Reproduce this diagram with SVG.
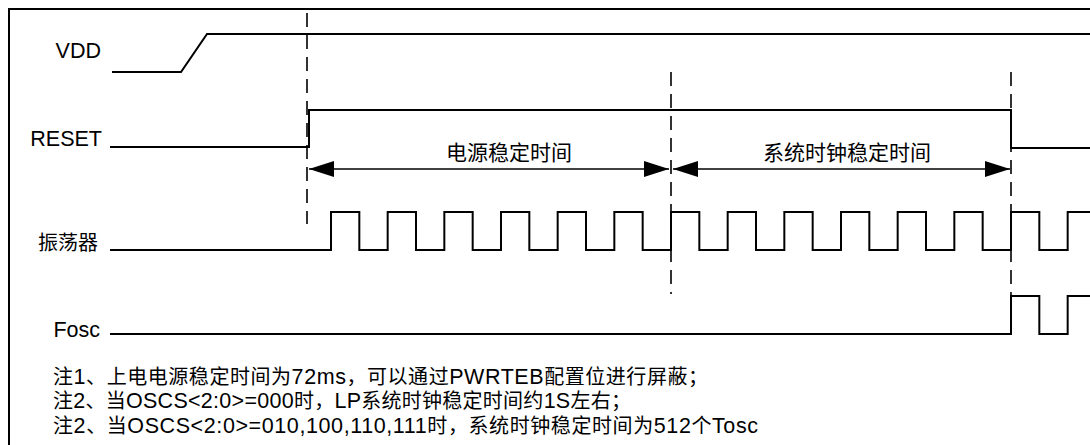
<svg xmlns="http://www.w3.org/2000/svg" width="1090" height="445" viewBox="0 0 1090 445">
<style>
.sig{fill:none;stroke:#000;stroke-width:2}
.dash{fill:none;stroke:#000;stroke-width:1.6;stroke-dasharray:14 8}
.dim{fill:none;stroke:#000;stroke-width:1.5;marker-start:url(#arr);marker-end:url(#arr)}
.lbl{font-family:"Liberation Sans","Noto Sans CJK SC",sans-serif;font-size:20px;fill:#000}
.lat{font-size:21.5px}
.note{font-family:"Liberation Sans","Noto Sans CJK SC",sans-serif;font-size:20px;fill:#000}
.frame{fill:none;stroke:#000;stroke-width:2}
</style>
<defs>
<marker id="arr" viewBox="0 0 25 16" refX="25" refY="8" markerWidth="25" markerHeight="16" markerUnits="userSpaceOnUse" orient="auto-start-reverse">
<path d="M0,0 L25,8 L0,16 z" fill="#000"/>
</marker>
</defs>
<rect width="1090" height="445" fill="#fff"/>
<path class="frame" d="M9,445 V9 H1090"/>

<g id="vdd">
<text class="lbl lat" x="101" y="58" text-anchor="end">VDD</text>
<path class="sig" d="M112,72 H181 L207,34 H1090"/>
</g>

<g id="reset">
<text class="lbl lat" x="102" y="146" text-anchor="end">RESET</text>
<path class="sig" d="M110,147 H309 V110 H1011 V148 H1090"/>
</g>

<g id="osc">
<text class="lbl" x="98" y="250" text-anchor="end">振荡器</text>
<path class="sig" d="M110,250 H331 V212 H359.33 V250 H387.67 V212 H416 V250 H444.33 V212 H472.67 V250 H501 V212 H529.33 V250 H557.67 V212 H586 V250 H614.33 V212 H642.67 V250 H671 V212 H699.33 V250 H727.67 V212 H756 V250 H784.33 V212 H812.67 V250 H841 V212 H869.33 V250 H897.67 V212 H926 V250 H954.33 V212 H982.67 V250 H1011 V212 H1039.33 V250 H1067.67 V212 H1090"/>
</g>

<g id="fosc">
<text class="lbl lat" x="100" y="337" text-anchor="end">Fosc</text>
<path class="sig" d="M110,334 H1011 V296 H1039.33 V334 H1067.67 V296 H1090"/>
</g>

<g id="connectors">
<path class="dash" d="M307,13 V224"/>
<path class="dash" d="M671,72 V294"/>
<path class="dash" d="M1011,72 V296"/>
<path class="dim" d="M309,169 H669"/>
<path class="dim" d="M673,169 H1010"/>
</g>

<g id="labels">
<text class="lbl" x="509" y="160" text-anchor="middle" style="font-size:21px">电源稳定时间</text>
<text class="lbl" x="847" y="160" text-anchor="middle" style="font-size:21px">系统时钟稳定时间</text>
</g>

<g id="notes">
<text class="note" x="53" y="384" textLength="655" lengthAdjust="spacing">注<tspan class="lat">1</tspan>、上电电源稳定时间为<tspan class="lat">72ms</tspan>，可以通过<tspan class="lat">PWRTEB</tspan>配置位进行屏蔽；</text>
<text class="note" x="53" y="408" textLength="578" lengthAdjust="spacing">注<tspan class="lat">2</tspan>、当<tspan class="lat">OSCS&lt;2:0&gt;=000</tspan>时，<tspan class="lat">LP</tspan>系统时钟稳定时间约<tspan class="lat">1S</tspan>左右；</text>
<text class="note" x="53" y="433" textLength="705" lengthAdjust="spacing">注<tspan class="lat">2</tspan>、当<tspan class="lat">OSCS&lt;2:0&gt;=010,100,110,111</tspan>时，系统时钟稳定时间为<tspan class="lat">512</tspan>个<tspan class="lat">Tosc</tspan></text>
</g>
</svg>
